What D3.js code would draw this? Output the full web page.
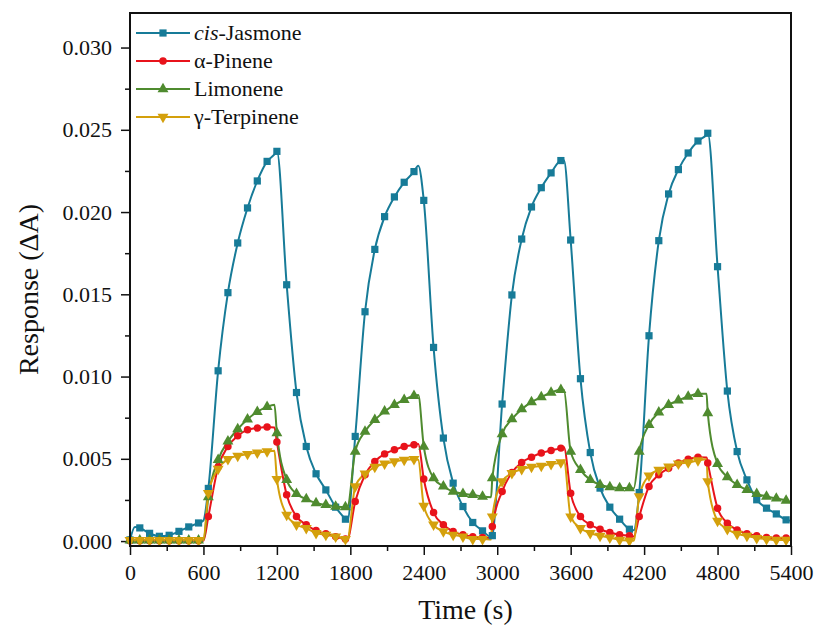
<!DOCTYPE html>
<html>
<head>
<meta charset="utf-8">
<script src="https://cdn.jsdelivr.net/npm/d3@7"></script>
<style>
  body { margin: 0; background: #fff; }
  text { font-family: "Liberation Serif", "Times New Roman", serif; fill: #111; }
</style>
</head>
<body>
<svg id="chart" width="816" height="628"></svg>
<script>
// time in s; the off-grid times mark where the gas was switched on / off
var time = [0, 40, 80, 160, 240, 320, 400, 480, 560, 600, 640, 720, 800, 880, 960, 1040, 1120, 1180,
  1200, 1280, 1360, 1440, 1520, 1600, 1680, 1760, 1775, 1840, 1920, 2000, 2080, 2160, 2240, 2320, 2355,
  2400, 2480, 2560, 2640, 2720, 2800, 2880, 2950, 2960, 3040, 3120, 3200, 3280, 3360, 3440, 3520, 3545,
  3600, 3680, 3760, 3840, 3920, 4000, 4080, 4115, 4160, 4240, 4320, 4400, 4480, 4560, 4640, 4710,
  4720, 4800, 4880, 4960, 5040, 5120, 5200, 5280, 5360, 5400];

var jasmone = [0.00007, 0.00086, 0.0008, 0.00047, 0.00029, 0.00035, 0.00059, 0.00086, 0.0011, 0.00125, 0.0032, 0.01035, 0.0151, 0.01812, 0.02025, 0.02189, 0.02308, 0.0235,
  0.02369, 0.01558, 0.00903, 0.00575, 0.00409, 0.00311, 0.00206, 0.00133, 0.0012, 0.00636, 0.01394, 0.01773, 0.01972, 0.02092, 0.02181, 0.02246, 0.02282,
  0.02071, 0.01177, 0.00626, 0.00352, 0.0021, 0.00113, 0.00062, 0.00025, 0.00033, 0.00833, 0.01496, 0.01836, 0.02031, 0.02148, 0.02238, 0.02313, 0.02315,
  0.0183, 0.00987, 0.00538, 0.00322, 0.00206, 0.00133, 0.00072, 0.00065, 0.00295, 0.01248, 0.01826, 0.0211, 0.02258, 0.02359, 0.02432, 0.0247,
  0.02479, 0.01668, 0.00912, 0.00544, 0.00372, 0.00251, 0.002, 0.00165, 0.00129, 0.00123];

var pinene = [0.00002, 0.00002, 0.00002, 0.00002, 0.00002, 0.00002, 0.00002, 0.00002, 0.00002, 0.00002, 0.00149, 0.0045, 0.00575, 0.0064, 0.00676, 0.00687, 0.00693, 0.0069,
  0.00602, 0.00281, 0.00149, 0.00099, 0.00064, 0.00044, 0.00027, 0.00012, 0.0001, 0.0024, 0.00403, 0.00484, 0.0053, 0.00555, 0.00575, 0.00585, 0.0059,
  0.00377, 0.00173, 0.00099, 0.00058, 0.00038, 0.00027, 0.00021, 0.00018, 0.00088, 0.00301, 0.00417, 0.00478, 0.0051, 0.00535, 0.00551, 0.00565, 0.00571,
  0.00291, 0.00149, 0.00099, 0.00072, 0.00052, 0.00038, 0.00032, 0.00027, 0.00149, 0.00332, 0.00403, 0.00443, 0.00474, 0.00498, 0.0051, 0.00508,
  0.00474, 0.002, 0.00109, 0.00068, 0.00044, 0.00032, 0.00021, 0.00018, 0.00018, 0.00018];

var limonene = [0.00005, 0.00005, 0.00005, 0.00005, 0.00005, 0.00005, 0.00005, 0.00005, 0.00005, 0.00007, 0.00267, 0.00494, 0.00606, 0.0068, 0.0074, 0.00786, 0.00816, 0.00828,
  0.00656, 0.00372, 0.00287, 0.00255, 0.00231, 0.0022, 0.0021, 0.00206, 0.00205, 0.00544, 0.00666, 0.00737, 0.00788, 0.00828, 0.00859, 0.00883, 0.00888,
  0.00575, 0.00383, 0.00332, 0.00301, 0.00287, 0.00281, 0.00271, 0.00267, 0.00383, 0.0065, 0.00741, 0.00802, 0.00845, 0.00875, 0.00903, 0.0092, 0.00918,
  0.00544, 0.00433, 0.00372, 0.00342, 0.00328, 0.00322, 0.00322, 0.0032, 0.00544, 0.00707, 0.00782, 0.00828, 0.00855, 0.00879, 0.00895, 0.00895,
  0.00778, 0.0047, 0.00389, 0.00342, 0.00311, 0.00287, 0.00271, 0.00259, 0.00246, 0.00234];

var terpinene = [0.00005, 0.00005, 0.00006, 0.00006, 0.00006, 0.00006, 0.00006, 0.00006, 0.00006, 0.00006, 0.00291, 0.00439, 0.00498, 0.00518, 0.00529, 0.00538, 0.00545, 0.00549,
  0.00377, 0.00159, 0.00099, 0.00078, 0.00048, 0.00038, 0.00027, 0.00012, 0.0001, 0.00332, 0.00409, 0.0045, 0.0047, 0.00484, 0.00494, 0.00498, 0.00494,
  0.00214, 0.00099, 0.00058, 0.00038, 0.00027, 0.00012, 0.00012, 0.0001, 0.00149, 0.00362, 0.00413, 0.00437, 0.0045, 0.00457, 0.00468, 0.00478, 0.0049,
  0.00149, 0.00078, 0.00048, 0.00032, 0.00021, 0.00007, 0.00003, 0.00002, 0.00271, 0.00397, 0.00433, 0.00453, 0.0047, 0.00478, 0.0049, 0.00498,
  0.00362, 0.00123, 0.00072, 0.00044, 0.00032, 0.00018, 0.00012, 0.00007, 0.00007, 0.00007];

var seriesNames = ["cis-Jasmone", "α-Pinene", "Limonene", "γ-Terpinene"];
var xTicks = [0, 600, 1200, 1800, 2400, 3000, 3600, 4200, 4800, 5400];
var yTicks = [0, 0.005, 0.010, 0.015, 0.020, 0.025, 0.030];

var colors = ["#177b98", "#e8131b", "#4f8b2f", "#d4a00c"];
var shapes = [d3.symbolSquare, d3.symbolCircle, d3.symbolTriangle, d3.symbolTriangle];
var rotations = [0, 0, 0, 180];

var values = [jasmone, pinene, limonene, terpinene];
var series = values.map(function (vals, i) {
  return {
    name: seriesNames[i],
    color: colors[i],
    shape: shapes[i],
    rot: rotations[i],
    points: time.map(function (t, j) { return {t: t, v: vals[j]}; })
  };
});

var svg = d3.select("#chart");
var plotL = 130, plotR = 791, plotT = 13, plotB = 546;

var x = d3.scaleLinear().domain([0, 5400]).range([plotL, plotR]);
var y = d3.scaleLinear().domain([-0.0003, 0.0321]).range([plotB, plotT]);

// minor ticks
svg.append("g")
  .attr("transform", "translate(0," + plotB + ")")
  .call(d3.axisBottom(x).tickValues(d3.range(300, 5400, 600)).tickSize(5).tickFormat(""))
  .call(function (g) { g.select(".domain").remove(); });
svg.append("g")
  .attr("transform", "translate(" + plotL + ",0)")
  .call(d3.axisLeft(y).tickValues(d3.range(0.0025, 0.032, 0.005)).tickSize(5).tickFormat(""))
  .call(function (g) { g.select(".domain").remove(); });

// major ticks
var xAxis = svg.append("g")
  .attr("transform", "translate(0," + plotB + ")")
  .call(d3.axisBottom(x).tickValues(xTicks).tickSize(9).tickPadding(9).tickFormat(d3.format("d")));
var yAxis = svg.append("g")
  .attr("transform", "translate(" + plotL + ",0)")
  .call(d3.axisLeft(y).tickValues(yTicks).tickSize(9).tickPadding(9).tickFormat(d3.format(".3f")));

[xAxis, yAxis].forEach(function (g) {
  g.select(".domain").remove();
  g.selectAll("text").style("font-size", "22px").style("font-family", "Liberation Serif").attr("fill", "#111");
});
svg.selectAll(".tick line").attr("stroke", "#111").attr("stroke-width", 1.5);

var line = d3.line()
  .x(function (d) { return x(d.t); })
  .y(function (d) { return y(d.v); })
  .curve(d3.curveMonotoneX);

var plot = svg.append("g");

series.forEach(function (s) {
  plot.append("path")
    .datum(s.points)
    .attr("fill", "none")
    .attr("stroke", s.color)
    .attr("stroke-width", 2)
    .attr("d", line);
});

// markers every 80 s
series.forEach(function (s) {
  var sym = d3.symbol().type(s.shape).size(s.shape === d3.symbolCircle ? 44 : 52);
  plot.selectAll(null)
    .data(s.points.filter(function (d) { return d.t % 80 === 0; }))
    .enter().append("path")
    .attr("d", sym)
    .attr("fill", s.color)
    .attr("transform", function (d) {
      return "translate(" + x(d.t) + "," + y(d.v) + ") rotate(" + s.rot + ")";
    });
});

// frame
svg.append("rect")
  .attr("x", plotL).attr("y", plotT)
  .attr("width", plotR - plotL).attr("height", plotB - plotT)
  .attr("fill", "none").attr("stroke", "#111").attr("stroke-width", 2);

// legend
var legend = svg.append("g");
series.forEach(function (s, i) {
  var ly = 33 + i * 28;
  legend.append("line")
    .attr("x1", 136).attr("x2", 190).attr("y1", ly).attr("y2", ly)
    .attr("stroke", s.color).attr("stroke-width", 2);
  legend.append("path")
    .attr("d", d3.symbol().type(s.shape).size(s.shape === d3.symbolCircle ? 44 : 52))
    .attr("fill", s.color)
    .attr("transform", "translate(163," + ly + ") rotate(" + s.rot + ")");
  var t = legend.append("text")
    .attr("x", 194).attr("y", ly + 7)
    .style("font-size", "22px");
  if (i === 0) {
    t.append("tspan").style("font-style", "italic").text("cis");
    t.append("tspan").text("-Jasmone");
  } else {
    t.text(s.name);
  }
});

// axis titles
svg.append("text")
  .attr("x", (plotL + plotR) / 2 + 5).attr("y", 619)
  .attr("text-anchor", "middle")
  .style("font-size", "28px")
  .text("Time (s)");

svg.append("text")
  .attr("transform", "translate(38," + ((plotT + plotB) / 2 + 10) + ") rotate(-90)")
  .attr("text-anchor", "middle")
  .style("font-size", "28px")
  .text("Response (ΔA)");
</script>
</body>
</html>
